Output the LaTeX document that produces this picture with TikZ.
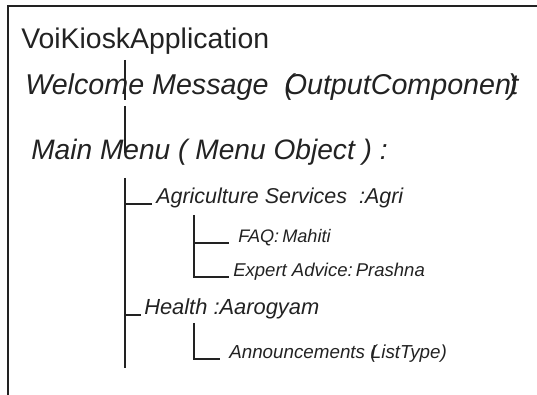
\documentclass[tikz,border=0pt]{standalone}
\usepackage{fontspec}
\setmainfont{Liberation Sans}
\definecolor{ink}{HTML}{222222}
\begin{document}
\begin{tikzpicture}[x=0.75pt,y=-0.75pt,
  label/.style={inner sep=0pt,anchor=base west,text=ink},
  tree/.style={draw=ink,line width=0.8pt},
  frame/.style={draw=ink,line width=1.1pt}]
\useasboundingbox (0,0) rectangle (537,395);
% outer frame (top and left edges only)
\draw[frame] (537,6) -- (8,6) -- (8,395);

% texts
\node[label,font=\fontsize{21.3}{24}\selectfont] (app) at (21,49) {VoiKioskApplication};
\node[label,font=\fontsize{21.5}{24}\selectfont\itshape] (welcome) at (25,95)
  {Welcome Message\ \ (\kern-0.32em OutputComponen\kern-0.02em t\kern-0.36em)};
\node[label,font=\fontsize{21.1}{24}\selectfont\itshape] (menu) at (31,160) {Main Menu ( Menu Object ) :};
\node[label,font=\fontsize{16.1}{19}\selectfont\itshape] (agri) at (156,204) {Agriculture Services\ \ :Agri};
\node[label,font=\fontsize{13.6}{16}\selectfont\itshape] (faq) at (238,243) {FAQ:\,Mahiti};
\node[label,font=\fontsize{13.9}{16}\selectfont\itshape] (expert) at (233,277) {Expert Advice:\,Prashna};
\node[label,font=\fontsize{16.4}{19}\selectfont\itshape] (health) at (144,315) {Health :Aarogyam};
\node[label,font=\fontsize{14.1}{16}\selectfont\itshape] (ann) at (229,359) {Announcements (\kern-0.3em ListType)};

% trunk from the application down to the main menu
\coordinate (t1) at (125,60);
\coordinate (t2) at (125,100);
\coordinate (t3) at (125,106);
\coordinate (t4) at (125,153);
\draw[tree] (t1) -- (t2);
\draw[tree] (t3) -- (t4);

% main menu branches
\coordinate (m1) at (125,178);
\coordinate (m2) at (125,368);
\draw[tree] (m1) -- (m2);
\draw[tree] (m1 |- agri.base) -- ([xshift=-3pt]agri.base west);
\draw[tree] (m1 |- health.base) -- ([xshift=-2pt]health.base west);

% agriculture sub-items
\coordinate (a1) at (194,215);
\draw[tree] (a1) -- (a1 |- expert.base) -- ([xshift=-3pt]expert.base west);
\draw[tree] (a1 |- faq.base) -- ([xshift=-7pt]faq.base west);

% health sub-item
\coordinate (h1) at (194,323);
\draw[tree] (h1) -- (h1 |- ann.base) -- ([xshift=-7pt]ann.base west);
\end{tikzpicture}
\end{document}
